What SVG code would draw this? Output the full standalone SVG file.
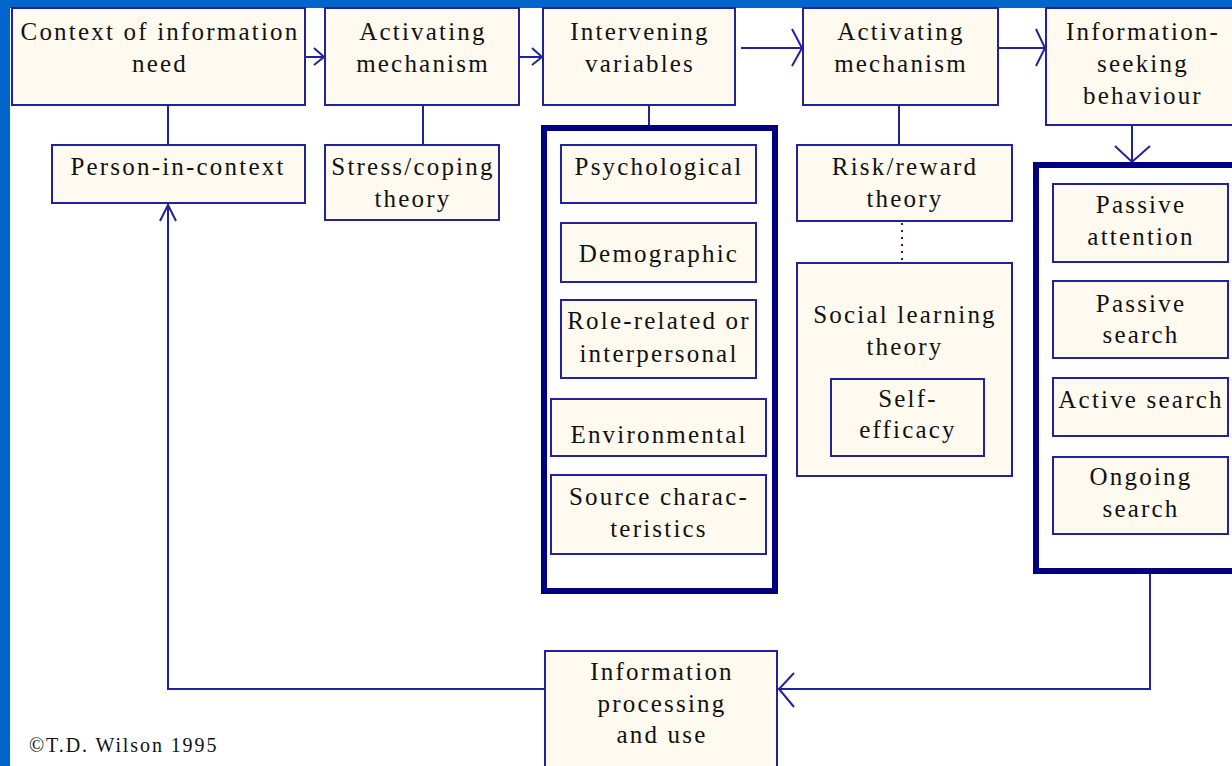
<svg xmlns="http://www.w3.org/2000/svg" width="1232" height="766" viewBox="0 0 1232 766">
<defs>
<style>
.bg{fill:#0066cc}
.box{fill:#fffaf0;stroke:#22229a;stroke-width:2}
.big{fill:#ffffff;stroke:#000080;stroke-width:6}
.ln{fill:none;stroke:#22229a;stroke-width:2}
.dot{fill:none;stroke:#22229a;stroke-width:2;stroke-dasharray:2 5}
.t{font-family:"Liberation Serif","Times New Roman",serif;font-size:25px;fill:#111;text-anchor:middle;letter-spacing:2.2px}
.c{font-family:"Liberation Serif","Times New Roman",serif;font-size:20px;fill:#111;letter-spacing:1.9px}
</style>
</defs>
<rect class="bg" x="0" y="0" width="1232" height="766"/>
<rect x="10" y="8" width="1222" height="758" fill="#ffffff"/>

<g id="connectors">
<line class="ln" x1="168" y1="105" x2="168" y2="145"/>
<line class="ln" x1="423" y1="105" x2="423" y2="145"/>
<line class="ln" x1="649" y1="105" x2="649" y2="125"/>
<line class="ln" x1="899" y1="105" x2="899" y2="145"/>
<line class="dot" x1="902" y1="223" x2="902" y2="262"/>
<line class="ln" x1="305" y1="57" x2="325" y2="57"/>
<polyline class="ln" points="314,48 324,57 314,65"/>
<line class="ln" x1="519" y1="57" x2="543" y2="57"/>
<polyline class="ln" points="532,48 542,57 532,65"/>
<line class="ln" x1="741" y1="48" x2="803" y2="48"/>
<polyline class="ln" points="792,29 802,48 792,66"/>
<line class="ln" x1="998" y1="48" x2="1046" y2="48"/>
<polyline class="ln" points="1036,29 1045,48 1036,66"/>
<line class="ln" x1="1132" y1="125" x2="1132" y2="163"/>
<polyline class="ln" points="1115,146 1132,162 1150,146"/>
<polyline class="ln" points="1150,572 1150,689 778,689"/>
<polyline class="ln" points="794,673 779,689 794,707"/>
<polyline class="ln" points="545,689 168,689 168,204"/>
<polyline class="ln" points="160,221 168,205 176,221"/>
</g>

<g id="context">
<rect class="box" x="12" y="8" width="293" height="97"/>
<text class="t" x="160" y="40">Context of information</text>
<text class="t" x="160" y="72">need</text>
</g>
<g id="person">
<rect class="box" x="52" y="145" width="253" height="58"/>
<text class="t" x="178" y="175">Person-in-context</text>
</g>
<g id="activating1">
<rect class="box" x="325" y="8" width="194" height="97"/>
<text class="t" x="423" y="40">Activating</text>
<text class="t" x="423" y="72">mechanism</text>
</g>
<g id="stress">
<rect class="box" x="325" y="145" width="174" height="75"/>
<text class="t" x="413" y="175">Stress/coping</text>
<text class="t" x="413" y="207">theory</text>
</g>
<g id="intervening">
<rect class="box" x="543" y="8" width="192" height="97"/>
<text class="t" x="640" y="40">Intervening</text>
<text class="t" x="640" y="72">variables</text>
</g>
<g id="variables-group">
<rect class="big" x="544" y="128" width="231" height="463"/>
</g>
<g id="psychological">
<rect class="box" x="561" y="145" width="195" height="58"/>
<text class="t" x="659" y="175">Psychological</text>
</g>
<g id="demographic">
<rect class="box" x="561" y="223" width="195" height="59"/>
<text class="t" x="659" y="262">Demographic</text>
</g>
<g id="role">
<rect class="box" x="561" y="300" width="195" height="78"/>
<text class="t" x="659" y="329">Role-related or</text>
<text class="t" x="659" y="362">interpersonal</text>
</g>
<g id="environmental">
<rect class="box" x="551" y="399" width="215" height="57"/>
<text class="t" x="659" y="443">Environmental</text>
</g>
<g id="source">
<rect class="box" x="551" y="475" width="215" height="79"/>
<text class="t" x="659" y="505">Source charac-</text>
<text class="t" x="659" y="537">teristics</text>
</g>
<g id="activating2">
<rect class="box" x="803" y="8" width="195" height="97"/>
<text class="t" x="901" y="40">Activating</text>
<text class="t" x="901" y="72">mechanism</text>
</g>
<g id="risk">
<rect class="box" x="797" y="145" width="215" height="76"/>
<text class="t" x="905" y="175">Risk/reward</text>
<text class="t" x="905" y="207">theory</text>
</g>
<g id="social">
<rect class="box" x="797" y="263" width="215" height="213"/>
<text class="t" x="905" y="323">Social learning</text>
<text class="t" x="905" y="355">theory</text>
</g>
<g id="selfefficacy">
<rect class="box" x="831" y="379" width="153" height="77"/>
<text class="t" x="908" y="407">Self-</text>
<text class="t" x="908" y="438">efficacy</text>
</g>
<g id="seeking">
<rect class="box" x="1046" y="8" width="200" height="117"/>
<text class="t" x="1143" y="40">Information-</text>
<text class="t" x="1143" y="72">seeking</text>
<text class="t" x="1143" y="104">behaviour</text>
</g>
<g id="seeking-group">
<rect class="big" x="1036" y="165" width="210" height="406"/>
</g>
<g id="passive-attention">
<rect class="box" x="1053" y="184" width="175" height="78"/>
<text class="t" x="1141" y="213">Passive</text>
<text class="t" x="1141" y="245">attention</text>
</g>
<g id="passive-search">
<rect class="box" x="1053" y="281" width="175" height="77"/>
<text class="t" x="1141" y="312">Passive</text>
<text class="t" x="1141" y="343">search</text>
</g>
<g id="active-search">
<rect class="box" x="1053" y="378" width="175" height="58"/>
<text class="t" x="1141" y="408">Active search</text>
</g>
<g id="ongoing-search">
<rect class="box" x="1053" y="457" width="175" height="77"/>
<text class="t" x="1141" y="485">Ongoing</text>
<text class="t" x="1141" y="517">search</text>
</g>
<g id="processing">
<rect class="box" x="545" y="651" width="232" height="125"/>
<text class="t" x="662" y="680">Information</text>
<text class="t" x="662" y="712">processing</text>
<text class="t" x="662" y="743">and use</text>
</g>
<text class="c" x="29" y="752">©T.D. Wilson 1995</text>
</svg>
